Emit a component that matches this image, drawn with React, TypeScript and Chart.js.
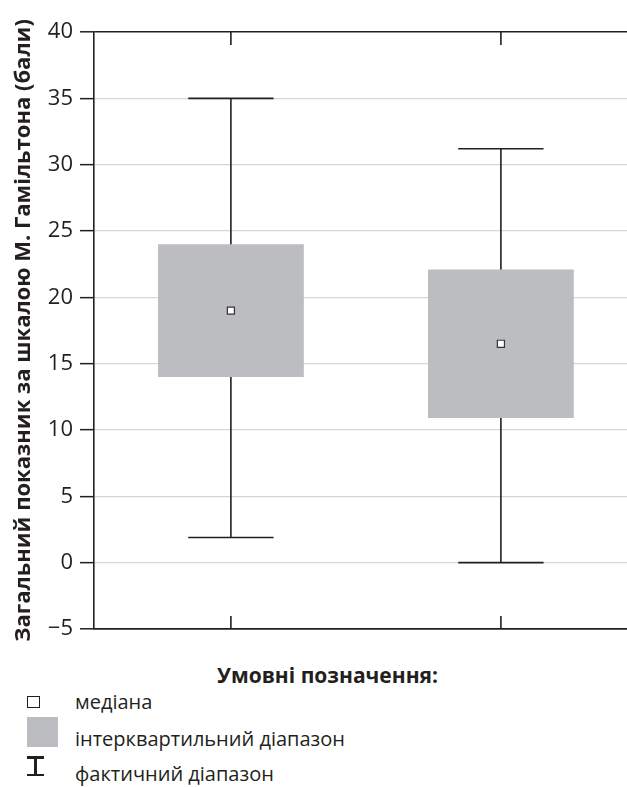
import React, { useEffect, useRef } from "react";
import { Chart, registerables } from "chart.js";

Chart.register(...registerables);

const categories = [1, 2];
const q1Values = [14, 10.9];
const q3Values = [24, 22.1];
const medianValues = [19, 16.5];
const minValues = [1.9, 0];
const maxValues = [35, 31.2];
const yTicks = [-5, 0, 5, 10, 15, 20, 25, 30, 35, 40];

const yTitle = "Загальний показник за шкалою М. Гамільтона (бали)";
const legendTitle = "Умовні позначення:";
const legendMedian = "медіана";
const legendIqr = "інтерквартильний діапазон";
const legendRange = "фактичний діапазон";

const DARK = "#231f20";
const LIGHT = "#d6d6d6";
const BOX = "#bcbdc1";
const FONT = "'Open Sans', 'Noto Sans', sans-serif";

const whiskerPlugin = {
  id: "whiskers",
  beforeDatasetsDraw(chart: any) {
    const { ctx, scales } = chart;
    const x = scales.x;
    const y = scales.y;
    ctx.save();
    ctx.strokeStyle = DARK;
    ctx.lineWidth = 1.6;
    categories.forEach((c, i) => {
      const cx = x.getPixelForValue(c);
      const half = x.getPixelForValue(c + 0.158) - cx;
      const yMin = y.getPixelForValue(minValues[i]);
      const yMax = y.getPixelForValue(maxValues[i]);
      ctx.beginPath();
      ctx.moveTo(cx, yMin);
      ctx.lineTo(cx, yMax);
      ctx.moveTo(cx - half, yMin);
      ctx.lineTo(cx + half, yMin);
      ctx.moveTo(cx - half, yMax);
      ctx.lineTo(cx + half, yMax);
      ctx.stroke();
    });
    ctx.restore();
  },
  afterDraw(chart: any) {
    const { ctx, scales, chartArea } = chart;
    const x = scales.x;
    ctx.save();
    ctx.strokeStyle = DARK;
    ctx.lineWidth = 1.6;
    categories.forEach((c) => {
      const cx = x.getPixelForValue(c);
      ctx.beginPath();
      ctx.moveTo(cx, chartArea.top);
      ctx.lineTo(cx, chartArea.top + 13);
      ctx.moveTo(cx, chartArea.bottom);
      ctx.lineTo(cx, chartArea.bottom - 13);
      ctx.stroke();
    });
    ctx.restore();
  },
};

export default function App() {
  const ref = useRef<HTMLCanvasElement | null>(null);

  useEffect(() => {
    if (!ref.current) return;
    const chart = new Chart(ref.current, {
      type: "bar",
      data: {
        datasets: [
          {
            type: "scatter",
            data: categories.map((c, i) => ({ x: c, y: medianValues[i] })),
            pointStyle: "rect",
            radius: 5,
            backgroundColor: "#ffffff",
            borderColor: "#333333",
            borderWidth: 1.2,
            order: 0,
          } as any,
          {
            type: "bar",
            data: categories.map((c, i) => ({ x: c, y: [q1Values[i], q3Values[i]] })),
            backgroundColor: BOX,
            borderWidth: 0,
            barPercentage: 0.54,
            categoryPercentage: 1,
            order: 1,
          } as any,
        ],
      },
      plugins: [whiskerPlugin],
      options: {
        animation: false,
        responsive: false,
        maintainAspectRatio: false,
        layout: { autoPadding: false, padding: { top: 32, right: 0, bottom: 21, left: 0 } },
        plugins: { legend: { display: false }, tooltip: { enabled: false } },
        scales: {
          x: {
            type: "linear",
            offset: false,
            min: 0.493,
            max: 2.467,
            afterBuildTicks: (s: any) => {
              s.ticks = categories.map((v) => ({ value: v }));
            },
            afterFit: (s: any) => {
              s.height = 0;
              s.paddingLeft = 0;
              s.paddingRight = 0;
            },
            ticks: { display: false },
            grid: { display: false, drawTicks: false, offset: false },
            border: { display: true, color: DARK, width: 1.6 },
          },
          y: {
            min: -5,
            max: 40,
            afterBuildTicks: (s: any) => {
              s.ticks = yTicks.map((v) => ({ value: v }));
            },
            afterFit: (s: any) => {
              s.width = 94;
            },
            ticks: {
              color: DARK,
              padding: 7,
              font: { family: FONT, size: 22 },
              callback: (v: any) => (Number(v) < 0 ? "\u2212" + Math.abs(Number(v)) : String(v)),
            },
            grid: {
              color: (c: any) => (c.tick && (c.tick.value === 40 || c.tick.value === -5) ? DARK : LIGHT),
              lineWidth: (c: any) => (c.tick && (c.tick.value === 40 || c.tick.value === -5) ? 1.6 : 1.3),
              tickColor: DARK,
              tickLength: 14,
              tickWidth: 1.5,
            },
            border: { display: true, color: DARK, width: 1.6 },
            title: {
              display: true,
              text: yTitle,
              color: DARK,
              font: { family: FONT, size: 22, weight: "bold" },
              padding: { top: 11, bottom: 0 },
            },
          },
        },
      } as any,
    });
    return () => chart.destroy();
  }, []);

  const textStyle: React.CSSProperties = {
    position: "absolute",
    left: 75,
    fontFamily: FONT,
    fontSize: 20,
    color: DARK,
    lineHeight: "24px",
    whiteSpace: "nowrap",
  };

  return (
    <div style={{ position: "fixed", left: 0, top: 0, width: 627, height: 787, background: "#fff", overflow: "hidden" }}>
      <canvas ref={ref} width={627} height={650} style={{ display: "block", width: 627, height: 650 }} />
      <div
        style={{
          position: "absolute",
          left: 217,
          top: 662,
          fontFamily: FONT,
          fontSize: 21,
          fontWeight: "bold",
          color: DARK,
          lineHeight: "26px",
          whiteSpace: "nowrap",
        }}
      >
        {legendTitle}
      </div>
      <div
        style={{
          position: "absolute",
          left: 27,
          top: 696,
          width: 11,
          height: 10,
          border: `1.6px solid ${DARK}`,
          background: "#fff",
        }}
      />
      <div style={{ ...textStyle, top: 690 }}>{legendMedian}</div>
      <div style={{ position: "absolute", left: 27, top: 717, width: 31, height: 30, background: BOX }} />
      <div style={{ ...textStyle, top: 727 }}>{legendIqr}</div>
      <div style={{ position: "absolute", left: 27, top: 756, width: 17, height: 20 }}>
        <div style={{ position: "absolute", left: 0, top: 0, width: 17, height: 2.5, background: DARK }} />
        <div style={{ position: "absolute", left: 7, top: 0, width: 2.5, height: 20, background: DARK }} />
        <div style={{ position: "absolute", left: 0, top: 17.5, width: 17, height: 2.5, background: DARK }} />
      </div>
      <div style={{ ...textStyle, top: 762 }}>{legendRange}</div>
    </div>
  );
}
